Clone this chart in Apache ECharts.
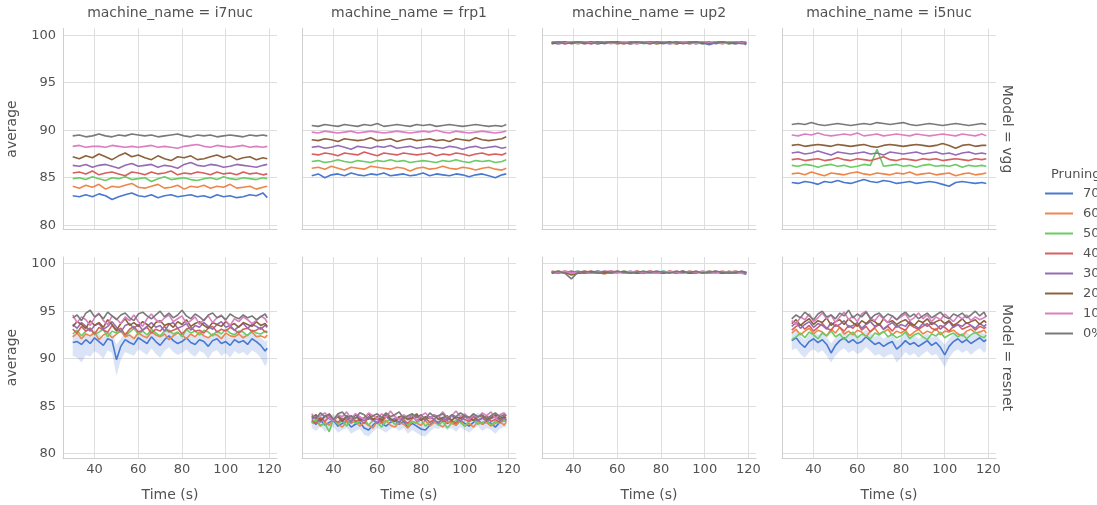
<!DOCTYPE html>
<html><head><meta charset="utf-8">
<script src="https://cdn.jsdelivr.net/npm/echarts@6/dist/echarts.min.js"></script>
<style>html,body{margin:0;padding:0;background:#fff}#c{width:1097px;height:505px}</style>
</head><body><div id="c"></div>
<script>
// ---------- data ----------
const T3 = [30,33,36,39,42,45,48,51,54,57,60,63,66,69,72,75,78,81,84,87,90,93,96,99,102,105,108,111,114,117,119];
const T2 = [30,32,34,36,38,40,42,44,46,48,50,52,54,56,58,60,62,64,66,68,70,72,74,76,78,80,82,84,86,88,90,92,94,96,98,100,102,104,106,108,110,112,114,116,118,119];
const PRUNING = ['70%','60%','50%','40%','30%','20%','10%','0%'];
const MACHINES = ['i7nuc','frp1','up2','i5nuc'];
const MODELS = ['vgg','resnet'];
const X_TICKS = [40,60,80,100,120];
const Y_TICKS = [80,85,90,95,100];

// each panel: lines in order 70%,60%,50%,40%,30%,20%,10%,0%
const vgg_i7nuc = [
 [83.1,83.0,83.2,83.0,83.3,83.1,82.7,83.0,83.2,83.4,83.1,83.0,83.2,82.9,83.1,83.2,83.0,83.1,83.2,83.0,83.1,82.9,83.2,83.0,83.1,82.9,83.0,83.2,83.1,83.4,82.9],
 [84.1,83.9,84.2,84.0,84.3,83.8,84.1,84.0,84.2,84.4,84.0,83.9,84.1,84.3,83.9,84.0,84.2,83.8,84.1,84.0,84.2,83.9,84.1,84.0,84.3,83.9,84.0,84.1,83.8,84.0,84.1],
 [84.9,85.0,84.8,85.1,84.9,84.7,85.0,84.9,85.1,84.8,84.9,85.0,84.6,84.9,85.1,84.8,84.9,85.0,84.8,84.7,84.9,85.0,84.8,85.1,84.9,84.8,85.0,84.9,84.8,85.0,84.9],
 [85.5,85.6,85.4,85.7,85.3,85.5,85.6,85.4,85.2,85.6,85.5,85.3,85.6,85.4,85.5,85.7,85.3,85.5,85.4,85.6,85.5,85.3,85.6,85.4,85.5,85.3,85.6,85.4,85.5,85.3,85.4],
 [86.3,86.2,86.4,86.1,86.3,86.4,86.2,86.0,86.3,86.5,86.2,86.3,86.4,86.1,86.3,86.2,86.0,86.4,86.6,86.3,86.2,86.4,86.3,86.1,86.2,86.4,86.3,86.2,86.1,86.3,86.4],
 [87.2,87.0,87.3,87.1,87.5,87.2,86.9,87.3,87.6,87.2,87.4,87.1,86.9,87.3,87.0,86.8,87.2,87.1,87.3,86.9,87.0,87.2,87.4,87.1,87.3,86.9,87.1,87.2,86.9,87.1,87.0],
 [88.3,88.4,88.2,88.3,88.3,88.2,88.4,88.3,88.2,88.3,88.2,88.3,88.4,88.2,88.3,88.2,88.1,88.3,88.4,88.5,88.3,88.2,88.4,88.3,88.2,88.3,88.4,88.2,88.3,88.2,88.3],
 [89.4,89.5,89.3,89.4,89.6,89.4,89.3,89.5,89.4,89.6,89.5,89.4,89.5,89.3,89.4,89.5,89.6,89.4,89.3,89.5,89.4,89.5,89.3,89.4,89.5,89.4,89.3,89.5,89.4,89.5,89.4]
];
const vgg_frp1 = [
 [85.2,85.4,85.0,85.3,85.4,85.2,85.5,85.3,85.2,85.4,85.3,85.5,85.2,85.3,85.4,85.2,85.3,85.5,85.2,85.4,85.3,85.2,85.4,85.3,85.1,85.3,85.4,85.2,85.0,85.3,85.4],
 [86.0,86.1,85.9,86.2,86.0,85.8,86.1,86.0,85.9,86.2,86.1,86.0,85.9,86.1,86.0,85.7,86.0,86.1,85.9,86.0,86.2,86.0,85.9,86.1,86.0,85.8,86.0,86.1,85.9,85.8,86.0],
 [86.7,86.8,86.6,86.7,86.9,86.7,86.6,86.8,86.7,86.6,86.8,86.7,86.9,86.7,86.8,86.6,86.7,86.8,86.7,86.6,86.8,86.7,86.9,86.7,86.6,86.8,86.7,86.8,86.6,86.7,86.9],
 [87.5,87.4,87.6,87.5,87.3,87.6,87.5,87.4,87.7,87.5,87.3,87.6,87.5,87.4,87.6,87.5,87.4,87.5,87.6,87.3,87.5,87.4,87.6,87.5,87.3,87.5,87.6,87.4,87.5,87.4,87.6],
 [88.2,88.3,88.1,88.2,88.4,88.2,88.0,88.3,88.2,88.1,88.3,88.2,88.4,88.1,88.2,88.3,88.1,88.2,88.3,88.2,88.1,88.3,88.2,88.0,88.2,88.3,88.1,88.2,88.3,88.1,88.2],
 [89.0,88.9,89.1,89.0,88.8,89.1,89.0,88.9,89.0,89.2,88.9,89.0,89.1,88.8,89.0,89.1,88.9,89.0,89.1,88.9,89.0,88.8,89.1,89.0,88.9,89.2,89.0,88.9,89.0,89.1,89.3],
 [89.8,89.7,89.9,89.8,89.7,89.8,89.9,89.7,89.8,89.9,89.8,89.7,89.8,89.9,89.8,89.7,89.8,89.9,89.8,90.0,89.8,89.7,89.9,89.8,89.7,89.8,89.9,89.8,89.7,89.8,89.9],
 [90.5,90.4,90.6,90.5,90.4,90.6,90.5,90.4,90.6,90.5,90.7,90.4,90.5,90.6,90.5,90.4,90.6,90.5,90.6,90.4,90.5,90.6,90.5,90.4,90.5,90.6,90.5,90.4,90.5,90.4,90.6]
];
const vgg_up2 = [
 [99.2,99.1,99.2,99.2,99.3,99.2,99.2,99.1,99.2,99.3,99.2,99.2,99.1,99.2,99.2,99.3,99.2,99.2,99.1,99.2,99.2,99.3,99.1,99.2,99.0,99.2,99.3,99.2,99.1,99.2,99.0],
 [99.1,99.3,99.2,99.2,99.3,99.1,99.2,99.2,99.3,99.2,99.2,99.1,99.3,99.2,99.2,99.3,99.1,99.2,99.2,99.3,99.2,99.1,99.2,99.3,99.2,99.2,99.1,99.3,99.2,99.2,99.1],
 [99.2,99.2,99.3,99.2,99.1,99.2,99.3,99.2,99.2,99.3,99.1,99.2,99.2,99.3,99.1,99.2,99.3,99.2,99.2,99.1,99.3,99.2,99.2,99.1,99.2,99.3,99.2,99.1,99.2,99.2,99.3],
 [99.3,99.2,99.1,99.2,99.2,99.3,99.1,99.2,99.3,99.2,99.1,99.2,99.3,99.2,99.2,99.1,99.2,99.3,99.2,99.1,99.2,99.3,99.2,99.2,99.1,99.3,99.2,99.2,99.3,99.2,99.1],
 [99.2,99.1,99.2,99.3,99.2,99.1,99.2,99.3,99.1,99.2,99.3,99.2,99.2,99.1,99.2,99.3,99.2,99.1,99.2,99.2,99.3,99.1,99.2,99.2,99.3,99.1,99.2,99.2,99.1,99.2,99.2],
 [99.1,99.2,99.3,99.1,99.2,99.2,99.3,99.1,99.2,99.2,99.3,99.2,99.1,99.2,99.3,99.2,99.1,99.2,99.3,99.1,99.2,99.2,99.3,99.1,99.2,99.2,99.3,99.1,99.2,99.3,99.2],
 [99.3,99.2,99.2,99.3,99.1,99.3,99.2,99.2,99.3,99.1,99.2,99.3,99.2,99.1,99.3,99.2,99.2,99.3,99.1,99.2,99.3,99.2,99.1,99.3,99.2,99.3,99.1,99.2,99.3,99.2,99.3],
 [99.2,99.3,99.1,99.2,99.3,99.2,99.1,99.3,99.2,99.3,99.2,99.1,99.2,99.3,99.2,99.1,99.3,99.2,99.2,99.3,99.1,99.2,99.3,99.2,99.1,99.2,99.3,99.2,99.2,99.1,99.2]
];
const vgg_i5nuc = [
 [84.5,84.4,84.6,84.5,84.3,84.6,84.5,84.7,84.5,84.4,84.6,84.8,84.6,84.5,84.7,84.6,84.4,84.5,84.6,84.4,84.5,84.6,84.5,84.3,84.1,84.5,84.6,84.5,84.4,84.5,84.4],
 [85.4,85.5,85.3,85.6,85.4,85.2,85.5,85.4,85.3,85.5,85.6,85.4,85.3,85.5,85.4,85.3,85.5,85.4,85.6,85.3,85.4,85.5,85.3,85.4,85.5,85.2,85.4,85.5,85.3,85.4,85.5],
 [86.3,86.2,86.4,86.3,86.1,86.3,86.4,86.2,86.3,86.1,86.2,86.4,86.3,88.0,86.2,86.3,86.4,86.2,86.3,86.1,86.3,86.4,86.2,86.3,86.2,86.4,86.1,86.3,86.2,86.3,86.2],
 [86.9,87.0,86.8,86.9,87.0,86.8,86.9,87.1,86.9,86.8,87.0,86.9,86.8,87.0,87.2,86.9,86.8,87.0,86.9,86.8,87.0,86.9,87.0,86.8,86.9,87.0,86.9,86.8,87.0,86.9,87.0],
 [87.6,87.7,87.5,87.6,87.8,87.6,87.4,87.7,87.6,87.5,87.6,87.7,87.5,87.6,87.4,87.7,87.6,87.5,87.6,87.7,87.5,87.6,87.7,87.5,87.6,87.4,87.6,87.7,87.5,87.6,87.5],
 [88.4,88.5,88.3,88.4,88.5,88.4,88.3,88.5,88.4,88.3,88.4,88.5,88.3,88.2,88.4,88.5,88.4,88.3,88.4,88.5,88.4,88.3,88.4,88.6,88.4,88.1,88.4,88.5,88.3,88.4,88.4],
 [89.5,89.4,89.6,89.5,89.7,89.5,89.4,89.5,89.6,89.5,89.7,89.4,89.5,89.6,89.4,89.5,89.6,89.5,89.4,89.6,89.5,89.4,89.5,89.6,89.5,89.4,89.6,89.5,89.4,89.6,89.4],
 [90.6,90.7,90.6,90.8,90.6,90.5,90.6,90.7,90.6,90.5,90.6,90.7,90.6,90.8,90.7,90.6,90.7,90.8,90.6,90.5,90.6,90.7,90.6,90.5,90.6,90.7,90.6,90.5,90.6,90.7,90.6]
];
const resnet_i7nuc = [
 [91.7,91.8,91.5,92.0,91.6,92.2,91.8,91.4,92.1,91.9,89.9,91.3,92.0,91.7,91.5,92.2,91.9,91.6,92.3,91.8,91.4,92.0,92.4,91.9,91.6,91.8,92.2,91.7,91.5,92.0,91.8,91.3,91.9,92.1,91.6,91.8,91.4,92.0,91.7,91.9,91.5,92.1,91.8,91.4,90.8,91.1],
 [92.3,92.7,92.1,92.6,92.4,92.8,92.0,92.5,92.7,92.2,92.6,92.9,92.3,92.5,92.1,92.7,92.4,92.2,92.8,92.5,92.3,92.6,92.0,92.4,92.7,92.5,92.1,92.6,92.3,92.8,92.4,92.2,92.6,92.5,92.1,92.7,92.4,92.3,92.6,92.2,92.5,92.8,92.3,92.4,92.2,92.5],
 [92.6,93.0,92.4,92.9,93.2,92.5,92.8,93.1,92.3,92.9,92.7,93.0,92.4,92.8,93.2,92.6,92.9,92.5,93.1,92.7,92.4,92.9,93.0,92.6,92.8,92.3,93.1,92.7,92.9,92.5,93.0,92.8,92.4,92.9,92.6,93.1,92.7,92.5,92.9,92.8,92.4,93.0,92.7,92.6,92.9,92.7],
 [93.1,92.7,93.4,92.9,93.2,92.6,93.3,93.0,92.8,93.5,92.9,93.2,92.5,93.1,93.4,92.8,93.0,93.3,92.7,93.1,92.9,93.4,92.8,93.0,93.2,92.6,93.1,93.3,92.9,93.0,92.7,93.2,93.4,92.8,93.1,92.9,93.3,93.0,92.7,93.1,93.2,92.9,93.0,93.3,92.8,92.9],
 [93.6,93.2,93.8,93.4,92.9,93.5,93.7,93.1,93.4,93.9,93.3,92.8,93.5,93.7,93.2,93.6,93.0,93.4,93.8,93.3,93.5,92.9,93.6,93.8,93.2,93.4,93.7,93.0,93.5,93.3,93.8,93.4,93.1,93.6,93.9,93.3,93.5,93.0,93.4,93.7,93.2,93.6,93.4,93.1,93.5,93.3],
 [93.4,93.9,93.6,93.2,94.0,93.5,93.8,93.3,94.1,93.6,93.0,93.7,94.2,93.5,93.8,93.4,93.9,93.6,93.2,93.8,94.0,93.5,93.7,93.3,93.9,93.6,94.1,93.4,93.7,93.9,93.5,93.2,93.8,93.6,93.4,93.9,93.5,93.7,93.3,93.8,93.6,93.4,93.9,93.5,93.7,93.4],
 [94.6,93.8,94.4,94.1,93.5,94.3,94.8,94.0,93.6,94.5,94.2,93.7,94.4,94.0,94.6,93.9,93.4,94.2,94.7,94.1,93.8,94.3,94.6,93.9,94.2,94.5,93.7,94.0,94.4,93.6,94.1,94.5,93.8,94.3,94.6,94.0,93.5,94.2,93.9,94.4,94.1,93.7,94.0,94.5,94.2,93.8],
 [94.3,94.6,94.0,94.8,95.1,94.4,94.7,94.2,94.9,94.5,94.1,94.6,94.8,94.3,94.0,94.7,94.9,94.5,94.2,94.6,95.0,94.4,94.8,94.3,94.6,95.1,94.5,94.2,94.7,94.4,94.0,94.6,94.8,94.3,94.5,94.1,94.7,94.4,94.2,94.6,94.3,94.5,94.1,94.4,94.7,94.3]
];
const resnet_frp1 = [
 [83.4,83.1,83.6,83.0,83.3,83.5,82.9,83.2,83.4,82.8,83.1,83.3,82.7,82.5,83.0,83.4,83.2,82.9,83.3,83.5,83.1,83.4,82.8,83.2,82.9,82.6,82.5,83.0,83.4,83.3,83.6,83.2,83.4,83.0,83.5,83.2,82.9,83.3,83.6,83.1,83.4,83.2,82.8,83.3,83.5,83.4],
 [83.2,83.5,82.9,83.3,83.0,83.6,83.1,82.8,83.4,83.2,83.5,82.9,83.3,83.0,82.7,83.4,83.2,83.5,83.0,82.8,83.3,83.1,82.7,83.4,83.2,83.0,83.5,82.9,83.3,83.1,82.8,83.4,83.2,83.0,83.5,82.9,83.2,82.8,83.4,83.1,83.3,82.9,83.2,83.4,83.0,83.3],
 [83.3,83.6,83.0,83.2,82.3,83.7,83.1,83.5,82.9,83.6,83.2,83.4,83.7,83.0,83.5,83.3,82.8,83.4,83.6,83.1,83.3,83.7,83.0,83.4,83.2,83.6,82.9,83.3,83.5,83.0,83.4,82.7,83.2,83.5,83.3,82.9,83.4,83.6,83.1,83.3,83.5,83.0,83.4,83.2,83.6,83.3],
 [83.5,83.2,83.8,83.4,83.9,83.6,83.3,83.7,83.5,83.9,83.4,83.6,83.2,83.8,83.5,83.7,83.3,83.9,83.6,83.4,83.8,83.5,83.2,83.7,84.0,83.5,83.8,83.3,83.6,84.0,83.4,83.7,83.5,83.2,83.8,83.6,83.4,83.9,83.5,83.7,84.0,83.4,83.6,83.3,83.8,83.5],
 [83.6,83.9,83.3,84.0,83.7,83.4,84.1,83.6,83.8,83.3,84.2,83.7,83.5,83.9,83.6,83.2,83.8,84.0,83.5,83.7,83.3,83.9,83.6,84.1,83.4,83.8,83.5,83.9,83.6,83.2,83.8,83.5,84.0,83.7,83.4,83.9,83.6,84.2,83.5,83.8,83.4,83.7,83.9,83.5,83.8,83.6],
 [83.8,84.1,83.5,83.9,84.2,83.6,83.9,83.4,84.0,83.7,84.1,83.5,83.8,84.2,83.6,83.9,83.5,84.1,83.7,83.4,83.9,84.0,83.6,83.8,84.2,83.5,83.9,83.7,84.1,83.6,83.8,84.0,83.5,83.9,83.7,84.1,83.8,83.5,83.9,84.0,83.6,83.8,84.1,83.7,83.9,83.8],
 [84.2,83.6,84.0,84.3,83.8,83.5,84.1,83.9,84.4,83.7,84.2,83.9,83.6,84.3,84.0,83.7,84.2,83.8,84.5,83.9,83.6,84.1,83.8,84.2,83.5,84.0,84.3,83.7,84.1,83.9,84.4,83.8,84.0,84.5,83.9,84.2,83.6,84.1,83.8,84.3,84.0,84.4,83.7,84.1,84.3,84.0],
 [84.0,83.7,84.3,83.9,84.1,83.6,84.2,84.4,83.8,84.0,83.7,84.3,84.1,83.6,84.0,84.2,83.8,84.3,83.9,84.1,84.4,83.7,84.0,84.2,83.8,84.1,83.6,84.3,83.9,84.0,84.2,83.7,84.1,83.9,84.3,84.0,83.8,84.2,83.9,84.1,83.7,84.0,84.3,83.9,84.1,84.0]
];
const resnet_up2 = [
 [99.1,99.1,99.0,99.2,99.1,99.0,99.1,99.2,99.1,99.0,99.1,99.1,99.2,99.0,99.1,99.1,99.0,99.2,99.1,99.1,99.2,99.0,99.1,99.1,99.0,99.1,99.1,99.0,99.1,99.0,98.9],
 [99.0,99.1,99.2,99.1,99.0,99.2,99.1,99.1,98.9,99.1,99.2,99.0,99.1,99.2,99.1,99.0,99.1,99.1,99.2,99.0,99.1,99.2,99.1,99.1,99.0,99.1,99.2,99.1,99.0,99.1,99.1],
 [99.1,99.2,99.0,99.1,99.2,99.1,99.0,99.2,99.1,99.1,99.0,99.2,99.1,99.1,99.2,99.0,99.1,99.2,99.1,99.1,99.0,99.2,99.1,99.0,99.2,99.1,99.1,99.0,99.2,99.1,99.0],
 [99.2,99.1,99.1,99.2,99.0,99.1,99.2,99.0,99.1,99.2,99.1,99.1,99.0,99.2,99.1,99.2,99.1,99.0,99.1,99.2,99.1,99.0,99.2,99.1,99.1,99.2,99.0,99.1,99.2,99.1,99.1],
 [99.1,99.0,99.2,99.1,99.2,99.0,99.1,99.2,99.1,99.0,99.2,99.1,99.1,99.2,99.0,99.1,99.2,99.1,99.1,99.0,99.2,99.1,99.0,99.2,99.1,99.2,99.1,99.1,99.0,99.2,99.1],
 [99.0,99.2,99.1,98.8,99.0,99.1,99.2,99.1,99.0,99.2,99.1,99.2,99.1,99.0,99.1,99.2,99.1,99.0,99.2,99.1,99.2,99.0,99.1,99.1,99.2,99.1,99.0,99.2,99.1,99.1,99.0],
 [99.2,99.1,99.2,99.0,99.1,99.2,99.0,99.1,99.2,99.2,99.1,99.0,99.2,99.1,99.1,99.2,99.0,99.1,99.2,99.1,99.0,99.2,99.1,99.2,99.1,99.0,99.2,99.1,99.2,99.0,99.1],
 [99.1,99.2,99.0,98.4,99.1,99.2,99.1,99.0,99.2,99.1,99.2,99.1,99.0,99.1,99.2,99.1,99.2,99.1,99.0,99.2,99.1,99.1,99.2,99.0,99.1,99.2,99.1,99.0,99.1,99.2,99.0]
];
const resnet_i5nuc = [
 [91.9,92.2,91.6,91.2,91.8,92.1,91.7,92.0,91.5,90.6,91.4,91.9,92.2,91.7,92.0,91.6,91.8,92.3,91.9,91.5,91.7,91.3,91.6,91.8,91.0,91.4,91.9,91.5,91.7,91.3,91.6,91.9,91.4,91.7,91.2,90.4,91.3,91.8,92.1,91.7,92.0,91.6,91.9,92.2,91.8,92.0],
 [92.7,93.1,92.5,92.9,93.2,92.6,93.0,92.8,92.4,93.1,92.7,93.3,92.6,92.9,92.5,93.0,92.8,92.3,92.9,93.2,92.6,92.8,93.1,92.5,92.9,92.7,93.0,92.4,92.8,93.1,92.6,92.9,92.7,93.2,92.5,92.9,92.8,93.0,92.6,92.4,92.9,93.1,92.7,92.8,93.0,92.7],
 [92.0,92.3,92.7,92.2,92.8,92.5,92.1,92.7,92.4,92.9,92.3,92.6,92.0,92.5,92.8,92.2,92.6,92.4,92.1,92.7,92.5,92.9,92.3,92.6,92.2,92.4,92.8,92.1,92.5,92.7,92.3,92.0,92.6,92.4,92.8,92.2,92.5,92.7,92.3,92.6,92.1,92.5,92.8,92.4,92.2,92.5],
 [93.0,93.4,93.6,93.1,93.5,92.9,93.3,93.7,93.2,93.0,93.6,93.3,92.9,93.5,93.2,93.7,93.0,93.4,92.8,93.3,93.6,93.1,93.4,92.9,93.5,93.2,93.0,93.6,93.3,93.1,93.4,93.7,93.2,93.0,93.5,93.3,92.9,93.4,93.6,93.1,93.3,93.5,93.0,93.4,93.2,93.3],
 [93.4,93.8,93.2,93.6,93.9,93.3,93.7,93.5,93.1,93.8,93.4,93.6,94.0,93.3,93.5,93.8,93.2,93.6,93.9,93.4,93.7,93.1,93.5,93.8,93.3,93.6,93.4,93.9,93.5,93.2,93.7,93.4,93.8,93.6,93.1,93.5,93.9,93.3,93.6,93.4,93.8,93.5,93.2,93.7,93.4,93.6],
 [93.7,94.1,93.5,93.9,94.2,93.6,94.0,93.8,94.3,93.5,93.9,94.1,93.6,94.2,93.8,93.4,94.0,93.7,94.1,93.9,93.5,94.2,93.8,94.0,93.6,93.9,94.1,93.7,93.5,94.0,93.8,94.2,93.6,93.9,94.1,93.7,94.0,93.5,93.8,94.2,93.7,93.9,94.1,93.6,94.0,93.8],
 [94.0,93.6,94.4,94.1,94.7,93.9,94.3,94.8,94.2,94.6,93.8,94.4,94.9,94.1,94.5,93.9,94.7,95.0,94.3,94.0,94.6,94.2,93.8,94.5,94.1,94.4,94.7,94.0,94.3,94.8,94.2,94.6,93.9,94.4,94.1,94.7,94.3,93.9,94.5,94.2,94.6,94.0,94.4,94.1,94.3,94.5],
 [94.2,94.6,94.3,94.9,94.5,94.1,94.7,95.0,94.4,94.6,94.2,94.8,94.5,95.1,94.3,94.7,94.4,94.9,94.2,94.6,94.8,94.3,94.7,94.5,94.1,94.6,94.9,94.4,94.7,94.2,94.5,94.8,94.3,94.6,94.9,94.4,94.2,94.7,94.5,94.8,94.3,94.6,95.0,94.5,94.9,94.4]
];
// confidence band (lower, upper) of the 70% line in the resnet panels
const band70_i7nuc_low = [90.3,90.1,89.6,90.4,90.2,90.8,90.5,90.0,90.9,90.6,88.2,89.9,90.7,90.5,90.3,91.0,90.7,90.4,91.1,90.5,90.1,90.8,91.2,90.7,90.4,90.6,91.0,90.5,90.2,90.8,90.6,90.0,90.7,90.9,90.3,90.6,90.1,90.8,90.5,90.7,90.3,90.9,90.6,90.1,89.2,89.6];
const band70_i7nuc_up = [92.5,92.6,92.3,92.8,92.4,93.0,92.6,92.2,92.9,92.7,91.5,92.1,92.8,92.5,92.3,93.0,92.7,92.4,93.1,92.6,92.2,92.8,93.2,92.7,92.4,92.6,93.0,92.5,92.3,92.8,92.6,92.1,92.7,92.9,92.4,92.6,92.2,92.8,92.5,92.7,92.3,92.9,92.6,92.2,91.8,92.0];
const band70_frp1_low = [82.7,82.4,82.9,82.3,82.6,82.8,82.2,82.5,82.7,82.1,82.4,82.6,82.0,81.8,82.3,82.7,82.5,82.2,82.6,82.8,82.4,82.7,82.1,82.5,82.2,81.9,81.8,82.3,82.7,82.6,82.9,82.5,82.7,82.3,82.8,82.5,82.2,82.6,82.9,82.4,82.7,82.5,82.1,82.6,82.8,82.7];
const band70_frp1_up = [84.1,83.8,84.3,83.7,84.0,84.2,83.6,83.9,84.1,83.5,83.8,84.0,83.4,83.2,83.7,84.1,83.9,83.6,84.0,84.2,83.8,84.1,83.5,83.9,83.6,83.3,83.2,83.7,84.1,84.0,84.3,83.9,84.1,83.7,84.2,83.9,83.6,84.0,84.3,83.8,84.1,83.9,83.5,84.0,84.2,84.1];
const band70_i5nuc_low = [90.9,91.1,90.5,90.1,90.7,91.0,90.6,90.9,90.3,89.6,90.3,90.8,91.1,90.6,90.9,90.5,90.7,91.2,90.8,90.3,90.5,90.1,90.4,90.5,89.6,90.1,90.7,90.3,90.6,90.1,90.5,90.8,90.3,90.5,89.9,89.1,90.1,90.7,91.0,90.6,90.9,90.4,90.8,91.1,90.6,90.9];
const band70_i5nuc_up = [92.7,93.0,92.4,92.0,92.6,92.9,92.5,92.8,92.3,91.6,92.2,92.7,93.0,92.5,92.8,92.4,92.6,93.1,92.7,92.3,92.5,92.1,92.4,92.6,91.9,92.2,92.7,92.3,92.5,92.1,92.4,92.7,92.2,92.5,92.0,91.5,92.1,92.6,92.9,92.5,92.8,92.4,92.7,93.0,92.6,92.8];

// ---------- layout / style ----------
const COLORS = ['#4878d0','#ee854a','#6acc64','#d65f5f','#956cb4','#8c613c','#dc7ec0','#797979'];
const PANELS = [[vgg_i7nuc, vgg_frp1, vgg_up2, vgg_i5nuc],[resnet_i7nuc, resnet_frp1, resnet_up2, resnet_i5nuc]];
const TIMES = [[T3,T3,T3,T3],[T2,T2,T3,T2]];
const BANDS = [[null,null,null,null],[[band70_i7nuc_low,band70_i7nuc_up],[band70_frp1_low,band70_frp1_up],null,[band70_i5nuc_low,band70_i5nuc_up]]];
const PANEL_LEFT = [63, 302, 542, 782];
const PANEL_TOP = [28.5, 257];
const PW = 214, PH = 201;
const X_MIN = 25.55, X_MAX = 123.45, Y_MIN = 79.55, Y_MAX = 100.7;
const FONT = 'DejaVu Sans';
const TXT = '#525252';

const grids = [], xAxes = [], yAxes = [], series = [], graphics = [];
MODELS.forEach((model, r) => {
  MACHINES.forEach((mach, c) => {
    const k = r * 4 + c;
    grids.push({ left: PANEL_LEFT[c], top: PANEL_TOP[r], width: PW, height: PH });
    xAxes.push({
      type: 'value', gridIndex: k, min: X_MIN, max: X_MAX,
      axisLine: { show: true, onZero: false, lineStyle: { color: '#cfcfcf', width: 1 } },
      axisTick: { show: false, customValues: X_TICKS },
      axisLabel: { show: r === 1, customValues: X_TICKS, margin: 5, fontSize: 13, color: TXT, fontFamily: FONT },
      splitLine: { show: true, lineStyle: { color: '#dedede', width: 1 } }
    });
    yAxes.push({
      type: 'value', gridIndex: k, min: Y_MIN, max: Y_MAX,
      axisLine: { show: true, onZero: false, lineStyle: { color: '#cfcfcf', width: 1 } },
      axisTick: { show: false, customValues: Y_TICKS },
      axisLabel: { show: c === 0, customValues: Y_TICKS, margin: 7, fontSize: 13, color: TXT, fontFamily: FONT },
      splitLine: { show: true, lineStyle: { color: '#dedede', width: 1 } }
    });
    const lines = PANELS[r][c];
    const T = TIMES[r][c];
    const band = BANDS[r][c];
    if (band) {
      const low = band[0], up = band[1];
      series.push({
        type: 'custom', name: 'band_' + k, xAxisIndex: k, yAxisIndex: k, silent: true, z: 1,
        data: [[T[0], low[0]]],
        renderItem: (params, api) => {
          const pts = [];
          for (let i = 0; i < up.length; i++) pts.push(api.coord([T[i], up[i]]));
          for (let i = low.length - 1; i >= 0; i--) pts.push(api.coord([T[i], low[i]]));
          return { type: 'polygon', shape: { points: pts }, style: { fill: 'rgba(72,120,208,0.2)' } };
        }
      });
    }
    lines.forEach((vals, j) => {
      series.push({
        type: 'line', name: PRUNING[j], xAxisIndex: k, yAxisIndex: k,
        data: vals.map((v, i) => [T[i], v]),
        showSymbol: false, symbol: 'none', silent: true,
        color: COLORS[j],
        lineStyle: { width: 1.6, color: COLORS[j] },
        z: 2 + j * 0.01
      });
    });
    const cx = PANEL_LEFT[c] + PW / 2;
    if (r === 0) {
      graphics.push({ type: 'text', x: cx, y: 13, style: { text: 'machine_name = ' + mach, fill: TXT, font: '14px "' + FONT + '"', textAlign: 'center', textVerticalAlign: 'middle' } });
    } else {
      graphics.push({ type: 'text', x: cx, y: 495, style: { text: 'Time (s)', fill: TXT, font: '14px "' + FONT + '"', textAlign: 'center', textVerticalAlign: 'middle' } });
    }
  });
  const cy = PANEL_TOP[r] + PH / 2;
  graphics.push({ type: 'text', x: 12, y: cy, rotation: Math.PI / 2, style: { text: 'average', fill: TXT, font: '14px "' + FONT + '"', textAlign: 'center', textVerticalAlign: 'middle' } });
  graphics.push({ type: 'text', x: 1007, y: cy, rotation: -Math.PI / 2, style: { text: 'Model = ' + model, fill: TXT, font: '14px "' + FONT + '"', textAlign: 'center', textVerticalAlign: 'middle' } });
});
graphics.push({ type: 'text', x: 1051, y: 175, style: { text: 'Pruning', fill: TXT, font: '13px "' + FONT + '"', textAlign: 'left', textVerticalAlign: 'middle' } });

const chart = echarts.init(document.getElementById('c'), null, { renderer: 'canvas' });
chart.setOption({
  animation: false,
  backgroundColor: '#ffffff',
  grid: grids, xAxis: xAxes, yAxis: yAxes, series: series,
  legend: {
    data: PRUNING, orient: 'vertical', left: 1040, top: 182,
    icon: 'rect', itemWidth: 28, itemHeight: 2, itemGap: 7,
    selectedMode: false,
    textStyle: { fontSize: 13, color: TXT, fontFamily: FONT, padding: [0, 0, 0, 5] }
  },
  graphic: graphics
});
</script>
</body></html>
